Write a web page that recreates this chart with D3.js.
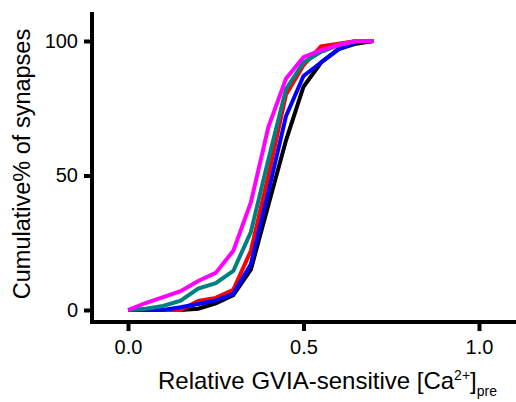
<!doctype html>
<html>
<head>
<style>
  body { margin: 0; background: #fff; }
  text { font-family: "Liberation Sans", Arial, sans-serif; fill: #000; }
</style>
<script src="https://d3js.org/d3.v7.min.js"></script>
</head>
<body>
<svg width="516" height="402" class="svg1"></svg>
<script>
  // relative GVIA-sensitive [Ca2+]pre bins
  var xs = [0, 0.05, 0.1, 0.15, 0.2, 0.25, 0.3, 0.35, 0.4, 0.45, 0.5, 0.55, 0.6, 0.65, 0.7];
  var blackVals   = [0, 0, 0, 0, 0.5, 2.5, 5.5, 15, 39, 63, 83, 92, 97, 99, 100];
  var redVals     = [0, 0, 0, 0, 3.4, 4.5, 7.5, 22, 50, 80, 91, 98, 99, 100, 100];
  var blueVals    = [0, 0, 0, 1, 2.2, 3.5, 6, 17, 44, 72, 87, 92, 97, 99.5, 100];
  var tealVals    = [0, 0.5, 1.5, 3.5, 8, 10, 14.5, 29, 56, 82, 92, 96, 98.5, 100, 100];
  var magentaVals = [0, 2.6, 4.8, 7, 10.8, 13.8, 22, 40, 68, 86, 94, 96.6, 98.5, 100, 100];
  var xTicks = [0, 0.5, 1];
  var yTicks = [0, 50, 100];

  var series = [
    {color: "#000000", values: blackVals},
    {color: "#ff0000", values: redVals},
    {color: "#0000ff", values: blueVals},
    {color: "#008080", values: tealVals},
    {color: "#ff00ff", values: magentaVals}
  ];

  var svg = d3.select(".svg1");

  var x = d3.scaleLinear().domain([0, 1]).range([128, 479]);
  var y = d3.scaleLinear().domain([0, 100]).range([310, 41]);

  // axes
  var xAxis = svg.append("g")
     .attr("transform", "translate(0,322)")
     .call(d3.axisBottom(x).tickValues(xTicks).tickFormat(d3.format(".1f")).tickSize(9).tickSizeOuter(0).tickPadding(9));
  xAxis.select(".domain").remove();
  xAxis.append("line").attr("x1", 90).attr("x2", 516).attr("stroke", "#000").attr("stroke-width", 4);
  xAxis.selectAll(".tick line").attr("stroke-width", 4);
  xAxis.selectAll(".tick text").attr("font-size", "20px").style("font-family", "Liberation Sans, Arial");

  var yAxis = svg.append("g")
     .attr("transform", "translate(92,0)")
     .call(d3.axisLeft(y).tickValues(yTicks).tickSize(8).tickSizeOuter(0).tickPadding(6));
  yAxis.select(".domain").remove();
  yAxis.append("line").attr("y1", 12).attr("y2", 324).attr("stroke", "#000").attr("stroke-width", 4);
  yAxis.selectAll(".tick line").attr("stroke-width", 4);
  yAxis.selectAll(".tick text").attr("font-size", "20px").style("font-family", "Liberation Sans, Arial");

  // curves
  var line = d3.line()
     .x(function(d, i) { return x(xs[i]); })
     .y(function(d) { return y(d); });

  svg.selectAll(".curve")
     .data(series)
     .enter().append("path")
     .attr("class", "curve")
     .attr("fill", "none")
     .attr("stroke", function(d) { return d.color; })
     .attr("stroke-width", 4)
     .attr("stroke-linejoin", "miter")
     .attr("d", function(d) { return line(d.values); });

  // axis titles
  var xt = svg.append("text")
     .attr("x", 158)
     .attr("y", 389)
     .attr("font-size", "24px");
  xt.append("tspan").text("Relative GVIA-sensitive [Ca");
  xt.append("tspan").attr("font-size", "14px").attr("dy", -9).text("2+");
  xt.append("tspan").attr("dy", 9).text("]");
  xt.append("tspan").attr("font-size", "14px").attr("dy", 7).text("pre");

  svg.append("text")
     .attr("transform", "translate(30,164) rotate(-90)")
     .attr("text-anchor", "middle")
     .attr("font-size", "23.5px")
     .text("Cumulative% of synapses");
</script>
</body>
</html>
